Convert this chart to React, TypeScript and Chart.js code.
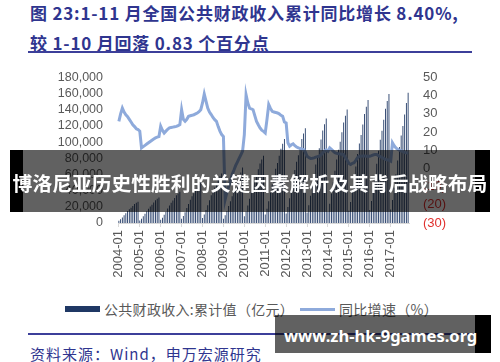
import React, { useEffect, useRef } from 'react';
import { Chart, registerables } from 'chart.js';

Chart.register(...registerables);

// ---------- text ----------
const TITLE_LINE_1 = '图 23:1-11 月全国公共财政收入累计同比增长 8.40%,';
const TITLE_LINE_2 = '较 1-10 月回落 0.83 个百分点';
const SOURCE_TEXT = '资料来源：Wind，申万宏源研究';
const BAR_LABEL = '公共财政收入:累计值（亿元）';
const LINE_LABEL = '同比增速（%）';
const BANNER_TEXT = '博洛尼亚历史性胜利的关键因素解析及其背后战略布局';
const WATERMARK_TEXT = 'www.zh-hk-9games.org';

// ---------- categories ----------
const YEARS = ['2004', '2005', '2006', '2007', '2008', '2009', '2010', '2011', '2012', '2013', '2014', '2015', '2016', '2017'];
const MONTHS = ['01', '02', '03', '04', '05', '06', '07', '08', '09', '10', '11', '12'];
const MONTH_COUNT = 167; // 2004-01 .. 2017-11
const labels = YEARS.flatMap((y) => MONTHS.map((m) => `${y}-${m}`)).slice(0, MONTH_COUNT);

// ---------- series: cumulative revenue (亿元) ----------
const revenue = [
  // 2004
  2640, 4487, 6863, 9503, 12142, 14782, 17025, 18873, 21117, 23360, 24944, 26396,
  // 2005
  3165, 5380, 8229, 11394, 14559, 17723, 20414, 22629, 25319, 28009, 29908, 31649,
  // 2006
  3876, 6589, 10078, 13954, 17830, 21706, 25000, 27713, 31008, 34303, 36628, 38760,
  // 2007
  5132, 8725, 13344, 18476, 23608, 28740, 33103, 36695, 41058, 45420, 48499, 51322,
  // 2008
  6133, 10426, 15946, 22079, 28212, 34345, 39558, 43851, 49064, 54277, 57957, 61330,
  // 2009
  5400, 9500, 14800, 21000, 27000, 33000, 39000, 43500, 50000, 56500, 62500, 68518,
  // 2010
  8310, 14127, 21607, 29917, 38227, 46537, 53601, 59418, 66482, 73545, 78531, 83102,
  // 2011
  10387, 17659, 27007, 37395, 47782, 58169, 66999, 74270, 83099, 91928, 98161, 103874,
  // 2012
  11725, 19933, 30486, 42211, 53937, 65662, 75629, 83837, 93803, 103770, 110805, 117254,
  // 2013
  12921, 21966, 33595, 46516, 59437, 72358, 83340, 92385, 103368, 114351, 122103, 129210,
  // 2014
  14037, 23863, 36496, 50533, 64570, 78607, 90539, 100365, 112296, 124227, 132650, 140370,
  // 2015
  15227, 25886, 39590, 54817, 70044, 85271, 98214, 108872, 121815, 134758, 143894, 152269,
  // 2016
  15961, 27133, 41497, 57458, 73418, 89379, 102945, 114118, 127684, 141250, 150827, 159605,
  // 2017
  16800, 28500, 43600, 60400, 77200, 94000, 108200, 120000, 134200, 148500, 161000,
];

// ---------- series: YoY growth (%) ----------
const growth = [
  // 2004
  25.9, 30, 33.2, 31, 29.5, 28.5, 27, 25.5, 24, 23, 21.8, 21.4,
  // 2005
  20.5, 11.3, 12, 12.7, 13.4, 14.1, 14.8, 15.5, 16.2, 16.8, 17.2, 17.5,
  // 2006
  23.2, 21, 19.5, 20.5, 21.5, 22.3, 22.5, 22.7, 22.9, 23.1, 23.5, 24.1,
  // 2007
  32.3, 27, 25.9, 27, 28.7, 29, 29.2, 29.5, 30, 30.5, 31.2, 32.3,
  // 2008
  36, 40.9, 37, 33.2, 31, 29.6, 28, 26.8, 25.9, 23, 20.5, 18.6,
  // 2009
  17.5, -17, -13, -10, -7, -3.3, -1, 1.5, 3.5, 5.5, 7.5, 9.5,
  // 2010
  18.6, 40.5, 36, 33.2, 32.8, 32.3, 29, 25.9, 24, 22.3, 21, 20.4,
  // 2011
  19.5, 27, 35.1, 33, 31.4, 31, 30.8, 30.5, 30, 29.2, 28.7, 25.5,
  // 2012
  25, 14.1, 12.2, 13, 13.5, 12.5, 11.8, 11.3, 11, 10.6, 10.4, 9,
  // 2013
  6.7, 6, 5.5, 5.6, 5.8, 6.2, 6.5, 6.7, 7.5, 8.5, 9.5, 10.2,
  // 2014
  9.5, 11.3, 10.5, 9.5, 8.6, 8.3, 8.1, 8, 7.8, 7.6, 6, 4.5,
  // 2015
  2.8, 2.2, 2.8, 3.1, 4.5, 6, 6.7, 6.7, 6.8, 6.8, 6.7, 6.7,
  // 2016
  6.7, 7, 7.4, 7.7, 7.7, 7, 6.5, 6, 5.5, 5, 4.8, 4.5,
  // 2017
  4, 14.1, 12.5, 11.3, 10.5, 10, 9.6, 9.2, 8.8, 8.6, 8.4,
];

// ---------- axes ----------
const LEFT_MIN = 0;
const LEFT_MAX = 180000;
const LEFT_STEP = 20000;
const RIGHT_MIN = -30;
const RIGHT_MAX = 50;
const RIGHT_STEP = 10;

const BAR_COLOR = '#1f3864';
const LINE_COLOR = '#8eaadb';
const TEXT_GRAY = '#595959';
const NAVY = '#2f358f';

const withCommas = (v: number) => String(v).replace(/\B(?=(\d{3})+(?!\d))/g, ',');

export default function App() {
  const ref = useRef<HTMLCanvasElement | null>(null);

  useEffect(() => {
    if (!ref.current) return;
    const chart = new Chart(ref.current, {
      type: 'bar',
      data: {
        labels,
        datasets: [
          {
            type: 'line',
            label: LINE_LABEL,
            data: growth,
            yAxisID: 'y1',
            borderColor: LINE_COLOR,
            backgroundColor: LINE_COLOR,
            borderWidth: 3,
            pointRadius: 0,
            tension: 0,
            order: 0,
          } as any,
          {
            type: 'bar',
            label: BAR_LABEL,
            data: revenue,
            yAxisID: 'y',
            backgroundColor: BAR_COLOR,
            borderWidth: 0,
            categoryPercentage: 1,
            barPercentage: 0.5,
            order: 1,
          } as any,
        ],
      },
      options: {
        animation: false,
        responsive: false,
        maintainAspectRatio: false,
        layout: { padding: 0 },
        plugins: { legend: { display: false }, tooltip: { enabled: false } },
        scales: {
          x: {
            type: 'category',
            offset: true,
            grid: {
              display: true,
              drawOnChartArea: false,
              drawTicks: true,
              tickLength: 4,
              color: '#d9d9d9',
              offset: false,
            },
            border: { display: true, color: '#d9d9d9' },
            ticks: {
              autoSkip: false,
              minRotation: 90,
              maxRotation: 90,
              padding: 3,
              color: TEXT_GRAY,
              font: { family: 'Liberation Sans', size: 13 },
            },
            afterBuildTicks: (scale: any) => {
              scale.ticks = scale.ticks.filter((t: any) => String(labels[t.value]).endsWith('-01'));
            },
            afterFit: (scale: any) => {
              scale.height = 72;
            },
          },
          y: {
            position: 'left',
            min: LEFT_MIN,
            max: LEFT_MAX,
            grid: { display: false, drawTicks: false },
            border: { display: false },
            ticks: {
              autoSkip: false,
              stepSize: LEFT_STEP,
              padding: 15,
              color: TEXT_GRAY,
              font: { family: 'Liberation Sans', size: 12.5 },
              callback: (v: any) => withCommas(Number(v)),
            },
            afterFit: (scale: any) => {
              scale.width = 118;
            },
          },
          y1: {
            position: 'right',
            min: RIGHT_MIN,
            max: RIGHT_MAX,
            grid: { display: false, drawTicks: false },
            border: { display: false },
            ticks: {
              autoSkip: false,
              stepSize: RIGHT_STEP,
              padding: 14,
              color: (ctx: any) => (ctx.tick && ctx.tick.value < 0 ? '#e0302e' : TEXT_GRAY),
              font: { family: 'Liberation Sans', size: 13 },
              callback: (v: any) => (Number(v) < 0 ? `(${-Number(v)})` : `${v}`),
            },
            afterFit: (scale: any) => {
              scale.width = 91;
            },
          },
        },
      } as any,
    });
    return () => chart.destroy();
  }, []);

  const abs = (s: React.CSSProperties): React.CSSProperties => ({ position: 'absolute', ...s });

  return (
    <div
      style={{
        position: 'fixed',
        left: 0,
        top: 0,
        width: 500,
        height: 362,
        background: '#ffffff',
        overflow: 'hidden',
        fontFamily: '"Noto Sans CJK SC", "Noto Sans", sans-serif',
      }}
    >
      {/* title */}
      <div style={abs({ left: 30, top: 2, fontSize: 17, lineHeight: '22px', fontWeight: 700, color: NAVY, letterSpacing: 0.8, whiteSpace: 'nowrap' })}>
        {TITLE_LINE_1}
      </div>
      <div style={abs({ left: 30, top: 32, fontSize: 17, lineHeight: '22px', fontWeight: 700, color: NAVY, letterSpacing: 0.8, whiteSpace: 'nowrap' })}>
        {TITLE_LINE_2}
      </div>
      <div style={abs({ left: 28, top: 51, width: 444, height: 2, background: '#3c3f9a' })} />

      {/* chart */}
      <canvas ref={ref} width={500} height={240} style={abs({ left: 0, top: 55, width: 500, height: 240 })} />

      {/* legend */}
      <div style={abs({ left: 65, top: 306, width: 35, height: 6, background: BAR_COLOR })} />
      <div style={abs({ left: 104, top: 299, fontSize: 14, lineHeight: '20px', color: TEXT_GRAY, whiteSpace: 'nowrap', letterSpacing: 0.3 })}>{BAR_LABEL}</div>
      <div style={abs({ left: 300, top: 307.5, width: 35, height: 3, background: LINE_COLOR })} />
      <div style={abs({ left: 339, top: 299, fontSize: 14, lineHeight: '20px', color: TEXT_GRAY, whiteSpace: 'nowrap', letterSpacing: 0.3 })}>{LINE_LABEL}</div>

      {/* bottom rule and source */}
      <div style={abs({ left: 28, top: 333, width: 447, height: 2, background: '#3c3f9a' })} />
      <div style={abs({ left: 30, top: 344, fontSize: 15, lineHeight: '20px', color: NAVY, letterSpacing: 1, whiteSpace: 'nowrap' })}>{SOURCE_TEXT}</div>

      {/* banner overlay */}
      <div style={abs({ left: 10, top: 150, width: 480, height: 62, background: 'rgba(0,0,0,0.62)' })} />
      <div style={abs({ left: 10, top: 150, width: 13, height: 62, background: '#000' })} />
      <div style={abs({ left: 475, top: 150, width: 15, height: 62, background: '#000' })} />
      <div
        style={abs({
          left: 0,
          top: 170,
          width: 500,
          textAlign: 'center',
          fontSize: 19.8,
          lineHeight: '26px',
          fontWeight: 700,
          color: '#ffffff',
          whiteSpace: 'nowrap',
        })}
      >
        {BANNER_TEXT}
      </div>

      {/* watermark */}
      <div style={abs({ left: 275, top: 315, width: 200, height: 38, background: 'rgba(0,0,0,0.62)' })} />
      <div style={abs({ left: 475, top: 315, width: 16, height: 38, background: '#000' })} />
      <div
        style={abs({
          left: 284,
          top: 324,
          fontSize: 16.5,
          lineHeight: '24px',
          fontWeight: 700,
          color: '#ffffff',
          fontFamily: '"Noto Sans", sans-serif',
          whiteSpace: 'nowrap',
        })}
      >
        {WATERMARK_TEXT}
      </div>
    </div>
  );
}
